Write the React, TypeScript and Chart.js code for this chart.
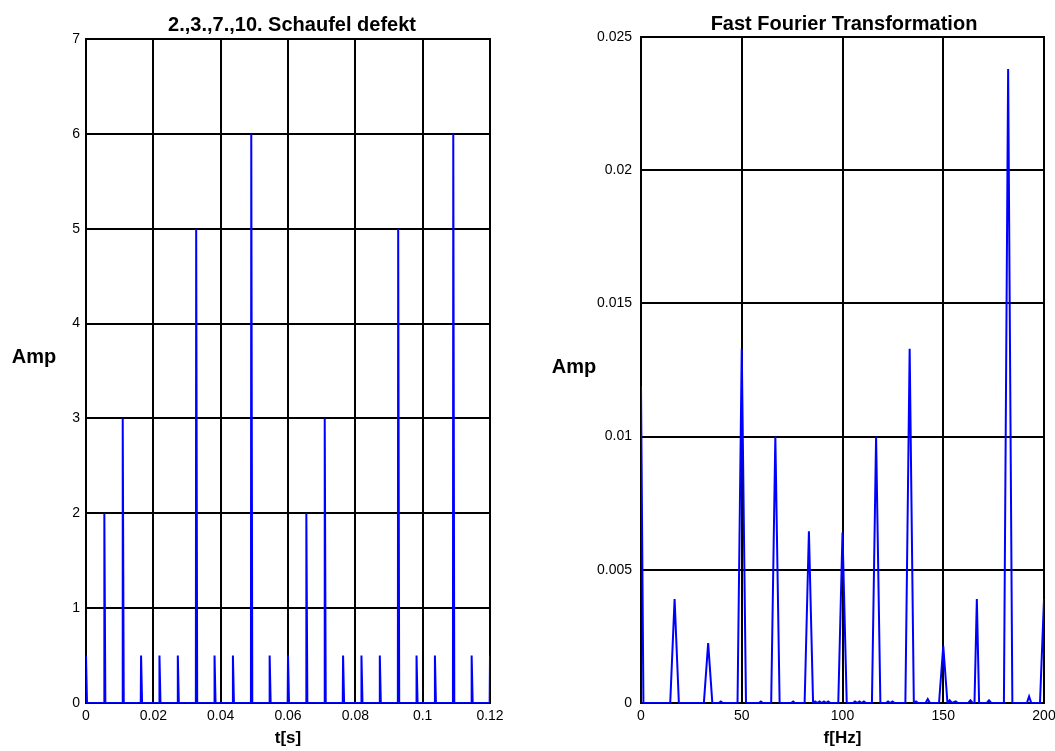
import React, { useEffect, useRef } from "react";
import { Chart, registerables } from "chart.js";

Chart.register(...registerables);

const FONT = '"Liberation Sans", Arial, Helvetica, sans-serif';

// ---------- Left panel: blade signal ----------
const bladeTitle = "2.,3.,7.,10. Schaufel defekt";
const bladeTimes = [
  0, 0.00545, 0.01091, 0.01636, 0.02182, 0.02727, 0.03273, 0.03818, 0.04364, 0.04909, 0.05455, 0.06,
  0.06545, 0.07091, 0.07636, 0.08182, 0.08727, 0.09273, 0.09818, 0.10364, 0.10909, 0.11455, 0.12,
];
const bladeAmps = [
  0.5, 2, 3, 0.5, 0.5, 0.5, 5, 0.5, 0.5, 6, 0.5, 0.5,
  2, 3, 0.5, 0.5, 0.5, 5, 0.5, 0.5, 6, 0.5, 0.5,
];
const timeTicks = [0, 0.02, 0.04, 0.06, 0.08, 0.1, 0.12];
const timeTickLabels = ["0", "0.02", "0.04", "0.06", "0.08", "0.1", "0.12"];
const ampTicks = [0, 1, 2, 3, 4, 5, 6, 7];
const ampTickLabels = ["0", "1", "2", "3", "4", "5", "6", "7"];

// ---------- Right panel: FFT ----------
const fftTitle = "Fast Fourier Transformation";
const fftFreq = [
  0, 1.2, 14.5, 16.67, 18.8, 31.2, 33.33, 35.4, 38.6, 39.6, 40.6, 47.9, 50, 52.1,
  58.5, 59.5, 60.5, 64.6, 66.67, 68.8, 74.5, 75.5, 76.5, 81.2, 83.33, 85.4, 86.4, 87.5,
  88.6, 89.7, 90.8, 91.9, 92.9, 94, 97.9, 100, 102.1, 105.2, 106.2, 107.3, 108.4, 109.5,
  110.6, 111.7, 114.6, 116.67, 118.8, 121.6, 122.6, 123.7, 124.8, 125.9, 131.2, 133.33, 135.4,
  136.5, 137.5, 141.2, 142.3, 143.4, 147.9, 150, 152.1, 153.2, 154.3, 156.2, 157.3, 158.4,
  162.4, 163.5, 164.6, 165.5, 166.67, 167.8, 171.6, 172.7, 173.8, 180.1, 182.2, 184.3,
  191.5, 192.6, 193.7, 198, 200,
];
const fftAmp = [
  0.0119, 0, 0, 0.0039, 0, 0, 0.00225, 0, 0, 0.00006, 0, 0, 0.0133, 0,
  0, 0.00006, 0, 0, 0.01, 0, 0, 0.00006, 0, 0, 0.00645, 0, 0.00006, 0,
  0.00006, 0, 0.00006, 0, 0.00006, 0, 0, 0.0064, 0, 0, 0.00006, 0, 0.00006, 0,
  0.00006, 0, 0, 0.01, 0, 0, 0.00006, 0, 0.00006, 0, 0, 0.0133, 0,
  0.00006, 0, 0, 0.00015, 0, 0, 0.00214, 0, 0.0001, 0, 0.00006, 0, 0,
  0, 0.0001, 0, 0, 0.0039, 0, 0, 0.0001, 0, 0, 0.0238, 0,
  0, 0.00025, 0, 0, 0.0039,
];
const freqTicks = [0, 50, 100, 150, 200];
const freqTickLabels = ["0", "50", "100", "150", "200"];
const fftAmpTicks = [0, 0.005, 0.01, 0.015, 0.02, 0.025];
const fftAmpTickLabels = ["0", "0.005", "0.01", "0.015", "0.02", "0.025"];

type PanelCfg = {
  left: number;
  width: number;
  height: number;
  plotLeft: number;
  plotRight: number;
  plotTop: number;
  plotBottom: number;
  title: string;
  titleX: number;
  titleY: number;
  ampX: number;
  ampY: number;
  xTitle: string;
  xTitleY: number;
  yTickPad: number;
  points: { x: number; y: number }[];
  xMin: number;
  xMax: number;
  yMin: number;
  yMax: number;
  xTicks: number[];
  xLabels: string[];
  yTicks: number[];
  yLabels: string[];
};

function buildSignal() {
  const pts: { x: number; y: number }[] = [];
  bladeTimes.forEach((t, i) => {
    pts.push({ x: t - 0.0001, y: 0 }, { x: t, y: bladeAmps[i] }, { x: t + 0.0003, y: 0 });
  });
  return pts;
}

function buildFft() {
  return fftFreq.map((f, i) => ({ x: f, y: fftAmp[i] }));
}

const H = 751;

const leftCfg: PanelCfg = {
  left: 0,
  width: 527,
  height: H,
  plotLeft: 86,
  plotRight: 490,
  plotTop: 39,
  plotBottom: 703,
  title: bladeTitle,
  titleX: 292,
  titleY: 25,
  ampX: 34,
  ampY: 357,
  xTitle: "t[s]",
  xTitleY: 738,
  yTickPad: 6,
  points: buildSignal(),
  xMin: 0,
  xMax: 0.12,
  yMin: 0,
  yMax: 7,
  xTicks: timeTicks,
  xLabels: timeTickLabels,
  yTicks: ampTicks,
  yLabels: ampTickLabels,
};

const rightCfg: PanelCfg = {
  left: 527,
  width: 528,
  height: H,
  plotLeft: 114,
  plotRight: 517,
  plotTop: 37,
  plotBottom: 703,
  title: fftTitle,
  titleX: 317,
  titleY: 24,
  ampX: 47,
  ampY: 367,
  xTitle: "f[Hz]",
  xTitleY: 738,
  yTickPad: 9,
  points: buildFft(),
  xMin: 0,
  xMax: 200,
  yMin: 0,
  yMax: 0.025,
  xTicks: freqTicks,
  xLabels: freqTickLabels,
  yTicks: fftAmpTicks,
  yLabels: fftAmpTickLabels,
};

function Panel({ cfg }: { cfg: PanelCfg }) {
  const ref = useRef<HTMLCanvasElement>(null);
  useEffect(() => {
    if (!ref.current) return;
    const boxPlugin = {
      id: "box",
      beforeDatasetsDraw(chart: any) {
        const { ctx, chartArea } = chart;
        ctx.save();
        ctx.strokeStyle = "#000";
        ctx.lineWidth = 2;
        ctx.strokeRect(chartArea.left, chartArea.top, chartArea.right - chartArea.left, chartArea.bottom - chartArea.top);
        ctx.restore();
      },
    };
    const textPlugin = {
      id: "texts",
      afterDraw(chart: any) {
        const { ctx, chartArea } = chart;
        const cx = (chartArea.left + chartArea.right) / 2;
        ctx.save();
        ctx.fillStyle = "#000";
        ctx.textAlign = "center";
        ctx.textBaseline = "middle";
        ctx.font = `bold 20px ${FONT}`;
        ctx.fillText(cfg.title, cfg.titleX, cfg.titleY);
        ctx.fillText("Amp", cfg.ampX, cfg.ampY);
        ctx.font = `bold 17px ${FONT}`;
        ctx.fillText(cfg.xTitle, cx, cfg.xTitleY);
        ctx.restore();
      },
    };
    const chart = new Chart(ref.current, {
      type: "line",
      data: {
        datasets: [
          {
            data: cfg.points,
            borderColor: "#0000ff",
            borderWidth: 2,
            pointRadius: 0,
            tension: 0,
            fill: false,
          },
        ],
      },
      options: {
        animation: false,
        responsive: false,
        layout: {
          padding: { top: cfg.plotTop, right: cfg.width - cfg.plotRight, bottom: 0, left: 0 },
        },
        plugins: {
          legend: { display: false },
          tooltip: { enabled: false },
          title: { display: false },
        },
        scales: {
          x: {
            type: "linear",
            min: cfg.xMin,
            max: cfg.xMax,
            afterBuildTicks: (s: any) => {
              s.ticks = cfg.xTicks.map((v) => ({ value: v }));
            },
            afterFit: (s: any) => {
              s.height = cfg.height - cfg.plotBottom;
              s.paddingLeft = 0;
              s.paddingRight = 0;
            },
            grid: { color: "#000", lineWidth: 2, drawTicks: false },
            border: { display: false },
            ticks: {
              color: "#000",
              font: { family: FONT, size: 14 },
              padding: 5,
              maxRotation: 0,
              autoSkip: false,
              callback: (v: any) => {
                const i = cfg.xTicks.findIndex((t) => Math.abs(t - Number(v)) < 1e-9);
                return i >= 0 ? cfg.xLabels[i] : "";
              },
            },
          },
          y: {
            type: "linear",
            min: cfg.yMin,
            max: cfg.yMax,
            afterBuildTicks: (s: any) => {
              s.ticks = cfg.yTicks.map((v) => ({ value: v }));
            },
            afterFit: (s: any) => {
              s.width = cfg.plotLeft;
              s.paddingTop = 0;
              s.paddingBottom = 0;
            },
            grid: { color: "#000", lineWidth: 2, drawTicks: false },
            border: { display: false },
            ticks: {
              color: "#000",
              font: { family: FONT, size: 14 },
              padding: cfg.yTickPad,
              autoSkip: false,
              callback: (v: any) => {
                const i = cfg.yTicks.findIndex((t) => Math.abs(t - Number(v)) < 1e-12);
                return i >= 0 ? cfg.yLabels[i] : "";
              },
            },
          },
        },
      },
      plugins: [boxPlugin, textPlugin],
    } as any);
    return () => chart.destroy();
  }, [cfg]);
  return (
    <canvas
      ref={ref}
      width={cfg.width}
      height={cfg.height}
      style={{ position: "absolute", left: cfg.left, top: 0, width: cfg.width, height: cfg.height }}
    />
  );
}

export default function App() {
  return (
    <div style={{ position: "absolute", left: 0, top: 0, width: 1055, height: 751, background: "#fff" }}>
      <Panel cfg={leftCfg} />
      <Panel cfg={rightCfg} />
    </div>
  );
}
